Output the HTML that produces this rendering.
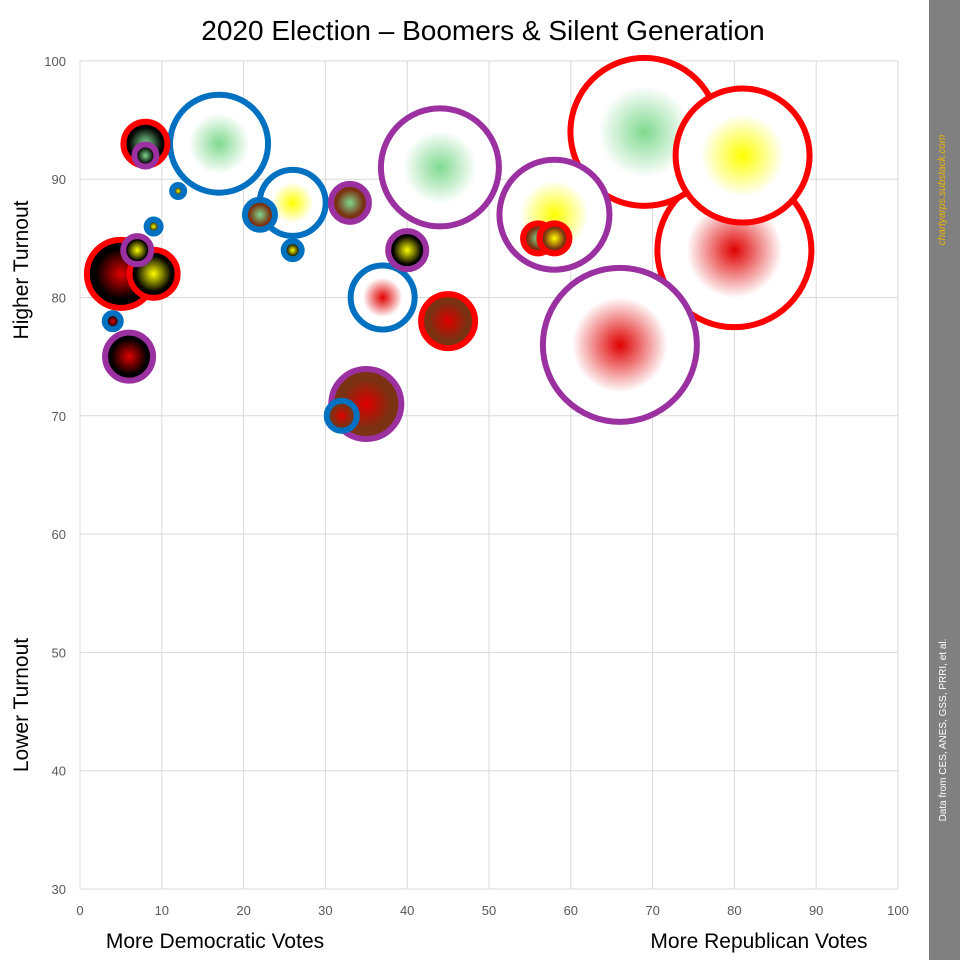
<!DOCTYPE html>
<html><head><meta charset="utf-8"><style>
body{margin:0;background:#fff;font-family:"Liberation Sans",sans-serif}
svg{display:block}
</style></head><body>
<svg id="c" width="960" height="960">
<rect x="0" y="0" width="960" height="960" fill="#fff"/>
<rect x="929" y="0" width="31" height="960" fill="#808080"/>
<text x="945" y="190" transform="rotate(-90 945 190)" text-anchor="middle" font-size="10" font-style="italic" fill="#f0b400">chartyarps.substack.com</text>
<text x="946" y="730" transform="rotate(-90 946 730)" text-anchor="middle" font-size="10" fill="#fff">Data from CES, ANES, GSS, PRRI, et al.</text>
<text x="483" y="40" text-anchor="middle" font-size="28" fill="#000">2020 Election – Boomers &amp; Silent Generation</text>
<text x="28" y="270" transform="rotate(-90 28 270)" text-anchor="middle" font-size="21" fill="#000">Higher Turnout</text>
<text x="28" y="705" transform="rotate(-90 28 705)" text-anchor="middle" font-size="21" fill="#000">Lower Turnout</text>
<text x="215" y="948" text-anchor="middle" font-size="21" fill="#000">More Democratic Votes</text>
<text x="759" y="948" text-anchor="middle" font-size="21" fill="#000">More Republican Votes</text>
<defs id="defs"></defs>
<g id="grid"></g><g id="bubbles"></g>
</svg>
<script>
const xTicks=[0,10,20,30,40,50,60,70,80,90,100];
const yTicks=[30,40,50,60,70,80,90,100];
const xs=[80,66,69,81,44,58,17,35,26,5,37,45,6,9,8,33,40,22,32,56,58,7,8,26,4,9,12];
const ys=[84,76,94,92,91,87,93,71,88,82,80,78,75,82,93,88,84,87,70,85,85,84,92,84,78,86,89];
const sizes=[80,80,77,70,62,58,52,38,36,37,35,30,27,27,25,22,22,18,18,18,18,17,14,12,11,10,9];
const borders=['r','p','r','r','p','p','b','p','b','r','b','r','p','r','r','p','p','b','b','r','r','p','p','b','b','b','b'];
const centers=['red','red','green','yellow','green','yellow','green','red','yellow','red','red','red','red','yellow','green','green','yellow','green','red','green','yellow','yellow','green','yellow','red','yellow','yellow'];
const edges=['w','w','w','w','w','w','w','m','w','k','w','m','k','k','k','m','k','m','m','m','m','k','k','k','k','k','k'];
const X=v=>80+v*8.18, Y=v=>889-(v-30)*11.83, R=s=>s;
const BC={r:'#ff0000',p:'#9b30a0',b:'#0070c0'};
const CC={red:'#e00000',green:'#7fd98f',yellow:'#ffff00'};
const EC={w:'#ffffff',k:'#000000',m:'#7a3212'};
const EO={w:'0.62',k:'0.75',m:'0.7'};
const ns='http://www.w3.org/2000/svg';
const g=document.getElementById('grid'),bg=document.getElementById('bubbles'),defs=document.getElementById('defs');
function mk(t,a,p){const e=document.createElementNS(ns,t);for(const k in a)e.setAttribute(k,a[k]);p.appendChild(e);return e;}
xTicks.forEach(v=>{
 const l=mk('line',{x1:X(v),x2:X(v),y1:61,y2:889,stroke:'#d9d9d9'},g);
 
 
 const t=mk('text',{x:X(v),y:915,'text-anchor':'middle','font-size':13,fill:'#595959'},g);t.textContent=v;
 
 
});
yTicks.forEach(v=>{
 const l=mk('line',{x1:80,x2:898,y1:Y(v),y2:Y(v),stroke:'#d9d9d9'},g);
 
 
 const t=mk('text',{x:66,y:Y(v)+5,'text-anchor':'end','font-size':13,fill:'#595959'},g);t.textContent=v;
 
 
});
xs.forEach((x,i)=>{
 const gr=mk('radialGradient',{id:'g'+i},defs);
 mk('stop',{offset:'0','stop-color':CC[centers[i]]},gr);
 mk('stop',{offset:EO[edges[i]],'stop-color':EC[edges[i]]},gr);
 const c=mk('circle',{cx:X(x),cy:Y(ys[i]),r:R(sizes[i])-3,fill:'url(#g'+i+')',stroke:BC[borders[i]],'stroke-width':6},bg);
 
 
});
</script>
</body></html>
